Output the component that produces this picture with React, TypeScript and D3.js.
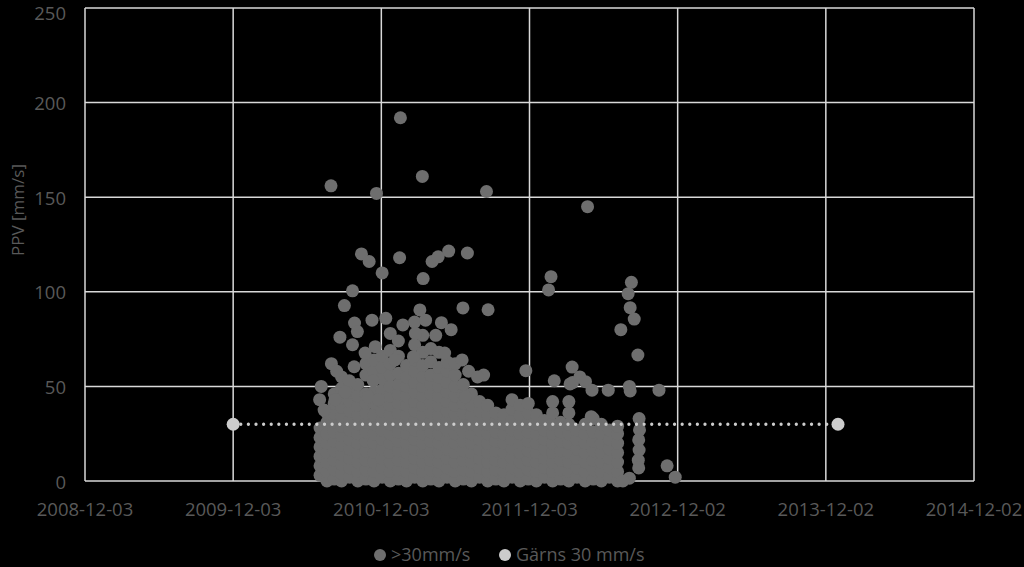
import React from "react";
import * as d3 from "d3";

// Axis ticks
const xTickLabels = ["2008-12-03", "2009-12-03", "2010-12-03", "2011-12-03", "2012-12-02", "2013-12-02", "2014-12-02"];
const yTicks = [0, 50, 100, 150, 200, 250];
const yTitle = "PPV [mm/s]";
const seriesNames = [">30mm/s", "Gärns 30 mm/s"];

// Limit series (Gärns 30 mm/s)
const limitDates = ["2009-12-03", "2014-01-01"];
const limitValues = [30, 30];

// Scatter series (>30mm/s): isolated points
const outliers: [string, number][] = [
  ["2010-08-01", 156], ["2011-01-19", 192], ["2010-11-21", 152], ["2011-03-14", 161], ["2011-08-19", 153], ["2012-04-24", 145],
  ["2010-10-15", 120], ["2010-11-03", 116], ["2010-12-05", 110], ["2011-01-17", 118], ["2011-03-16", 107], ["2011-04-07", 116],
  ["2011-04-22", 118.5], ["2011-05-18", 121.5], ["2011-07-03", 120.5], ["2010-09-23", 100.5], ["2010-09-03", 92.7],
  ["2011-06-22", 91.5], ["2011-08-23", 90.5], ["2011-03-08", 90.4],
  ["2012-01-25", 108], ["2012-01-19", 101], ["2012-08-10", 105], ["2012-08-02", 99], ["2012-08-07", 91.6], ["2012-08-17", 85.6],
  ["2012-07-15", 80], ["2012-08-26", 66.6], ["2011-11-24", 58.3], ["2011-08-12", 56], ["2012-03-17", 60.2], ["2012-02-02", 53],
  ["2012-03-12", 51.3], ["2012-03-18", 52], ["2012-04-05", 55], ["2012-04-19", 52.5], ["2012-05-05", 48], ["2012-06-14", 48],
  ["2012-08-05", 50], ["2012-08-07", 47.6], ["2012-10-17", 48], ["2012-05-03", 34],
  ["2012-08-29", 33], ["2012-08-30", 27], ["2012-08-28", 21.7], ["2012-08-29", 16.4], ["2012-08-27", 11], ["2012-08-28", 6.9],
  ["2012-11-06", 8], ["2012-11-26", 2], ["2012-08-05", 1.5], ["2012-07-20", 0],
  ["2010-09-28", 83.5], ["2010-08-23", 76], ["2010-10-05", 79], ["2010-11-10", 85], ["2010-12-14", 86], ["2011-01-25", 82.5],
  ["2011-03-22", 85], ["2011-02-25", 78], ["2011-04-30", 83.7], ["2011-05-24", 80], ["2011-04-16", 77], ["2011-02-20", 65.7],
  ["2011-01-06", 64], ["2010-10-24", 67.6], ["2010-09-23", 72], ["2010-11-18", 71], ["2010-08-02", 62], ["2010-08-15", 58],
  ["2010-09-27", 60.4], ["2010-09-15", 53], ["2010-11-13", 53], ["2011-05-08", 67.6], ["2011-06-20", 64], ["2011-07-06", 58],
  ["2011-07-28", 55], ["2010-07-08", 50], ["2010-07-04", 43], ["2010-07-15", 37.5], ["2010-08-11", 43], ["2010-09-05", 47],
  ["2010-11-01", 44.5], ["2010-11-26", 43], ["2011-06-28", 44.5],
];

// Scatter series (>30mm/s): dense cluster, read column by column
const cluster2010: [string, number[]][] = [
  ["2010-07-05", [3, 8, 13, 18, 23, 28]],
  ["2010-07-22", [0, 5, 10, 15, 20, 25, 31, 36]],
  ["2010-08-09", [1, 6, 11, 16, 21, 26, 31, 36, 41, 46]],
  ["2010-08-27", [0, 4, 9, 14, 19, 24, 29, 34, 39, 44, 49, 55]],
  ["2010-09-16", [2, 7, 12, 17, 22, 27, 32, 37, 42, 47]],
  ["2010-10-06", [0, 5, 10, 15, 20, 25, 30, 35, 40, 45, 51]],
  ["2010-10-26", [1, 6, 11, 16, 21, 26, 31, 36, 41, 46, 56, 62]],
  ["2010-11-15", [0, 5, 10, 15, 20, 25, 30, 35, 41, 47, 58, 64]],
  ["2010-12-05", [2, 7, 12, 17, 22, 27, 32, 37, 42, 48, 54, 60, 66]],
  ["2010-12-25", [0, 5, 10, 15, 20, 25, 30, 35, 40, 45, 50, 56, 62, 69, 78]],
];
const cluster2011: [string, number[]][] = [
  ["2011-01-14", [1, 6, 11, 16, 21, 26, 31, 36, 41, 46, 51, 57, 66, 74]],
  ["2011-02-03", [0, 5, 10, 15, 20, 25, 30, 35, 40, 45, 50, 55, 61]],
  ["2011-02-23", [2, 7, 12, 17, 22, 27, 32, 37, 42, 47, 52, 58, 64, 72, 84]],
  ["2011-03-15", [0, 5, 10, 15, 20, 25, 30, 35, 40, 45, 50, 55, 61, 68, 77]],
  ["2011-04-04", [1, 6, 11, 16, 21, 26, 31, 36, 41, 46, 51, 56, 63, 70]],
  ["2011-04-24", [0, 5, 10, 15, 20, 25, 30, 35, 40, 45, 50, 55, 60, 68]],
  ["2011-05-14", [2, 7, 12, 17, 22, 27, 32, 37, 42, 47, 52, 58, 63]],
  ["2011-06-03", [0, 5, 10, 15, 20, 25, 30, 35, 40, 45, 50, 56, 62]],
  ["2011-06-23", [1, 6, 11, 16, 21, 26, 31, 36, 41, 46, 51]],
  ["2011-07-13", [0, 5, 10, 15, 20, 25, 30, 35, 40, 46]],
  ["2011-08-02", [2, 7, 12, 17, 22, 27, 32, 37, 42]],
  ["2011-08-22", [0, 5, 10, 15, 20, 25, 30, 35, 40]],
  ["2011-09-11", [1, 6, 11, 16, 21, 26, 31, 36]],
  ["2011-10-01", [0, 5, 10, 15, 20, 25, 30, 35]],
  ["2011-10-21", [2, 7, 12, 17, 22, 27, 32, 38, 43]],
  ["2011-11-10", [0, 5, 10, 15, 20, 25, 30, 35, 40]],
  ["2011-11-30", [1, 6, 11, 16, 21, 26, 31, 36, 41]],
  ["2011-12-20", [0, 5, 10, 15, 20, 25, 30, 35]],
];
const cluster2012: [string, number[]][] = [
  ["2012-01-09", [2, 7, 12, 17, 22, 27, 32]],
  ["2012-01-29", [0, 5, 10, 15, 20, 25, 30, 36, 42]],
  ["2012-02-18", [1, 6, 11, 16, 21, 26, 31]],
  ["2012-03-09", [0, 5, 10, 15, 20, 25, 30, 36, 42]],
  ["2012-03-29", [2, 7, 12, 17, 22, 27]],
  ["2012-04-18", [0, 5, 10, 15, 20, 25, 30]],
  ["2012-05-08", [1, 6, 11, 16, 21, 26, 33]],
  ["2012-05-28", [0, 5, 10, 15, 20, 25, 30]],
  ["2012-06-17", [2, 7, 12, 17, 22, 27]],
  ["2012-07-07", [0, 5, 10, 15, 20, 25, 29]],
];

const BG = "#000000";
const GRID = "#d9d9d9";
const TEXT = "#595959";
const DOT = "#6e6e6e";
const LIMIT = "#cccccc";
const FONT = "'Open Sans', 'DejaVu Sans', sans-serif";

export default function App() {
  const W = 1024, H = 567;
  const parse = d3.utcParse("%Y-%m-%d");
  const x = d3.scaleUtc()
    .domain([parse(xTickLabels[0])!, parse(xTickLabels[xTickLabels.length - 1])!])
    .range([85, 974]);
  const y = d3.scaleLinear().domain([0, 250]).range([481, 8]);

  const clusterPts: [string, number][] = [...cluster2010, ...cluster2011, ...cluster2012]
    .flatMap(([d, vs]) => vs.map((v) => [d, v] as [string, number]));
  const points = [...clusterPts, ...outliers];

  const limitData = limitDates.map((d, i) => ({ d: parse(d)!, v: limitValues[i] }));
  const line = d3.line<{ d: Date; v: number }>().x((p) => x(p.d)).y((p) => y(p.v));

  return (
    <svg width={W} height={H} style={{ position: "fixed", left: 0, top: 0, background: BG, display: "block" }}>
      <rect x={0} y={0} width={W} height={H} fill={BG} />
      {/* grid */}
      {yTicks.map((t) => (
        <line key={"gy" + t} x1={85} x2={974} y1={y(t)} y2={y(t)} stroke={GRID} strokeWidth={1.5} />
      ))}
      {xTickLabels.map((t) => (
        <line key={"gx" + t} x1={x(parse(t)!)} x2={x(parse(t)!)} y1={y(0)} y2={y(250)} stroke={GRID} strokeWidth={1.5} />
      ))}
      {/* y tick labels */}
      {yTicks.map((t) => (
        <text key={"ly" + t} x={66} y={Math.max(y(t), 12)} textAnchor="end" dominantBaseline="central"
          fontFamily={FONT} fontSize={18.5} fill={TEXT}>{t}</text>
      ))}
      {/* x tick labels */}
      {xTickLabels.map((t) => (
        <text key={"lx" + t} x={x(parse(t)!)} y={508} textAnchor="middle" dominantBaseline="central"
          fontFamily={FONT} fontSize={18.5} fill={TEXT}>{t}</text>
      ))}
      {/* y title */}
      <text transform={`translate(17,210) rotate(-90)`} textAnchor="middle" dominantBaseline="central"
        fontFamily={FONT} fontSize={17} fill={TEXT}>{yTitle}</text>
      {/* scatter */}
      <g>
        {points.map(([d, v], i) => (
          <circle key={i} cx={x(parse(d)!)} cy={y(v)} r={6.5} fill={DOT} />
        ))}
      </g>
      {/* limit series */}
      <path d={line(limitData) || ""} fill="none" stroke={LIMIT} strokeWidth={3.3}
        strokeDasharray="0.01 7.6" strokeLinecap="round" />
      {limitData.map((p, i) => (
        <circle key={"lim" + i} cx={x(p.d)} cy={y(p.v)} r={6.5} fill={LIMIT} />
      ))}
      {/* legend */}
      <circle cx={380} cy={555} r={6} fill={DOT} />
      <text x={391} y={554} dominantBaseline="central" fontFamily={FONT} fontSize={18} fill={TEXT}>{seriesNames[0]}</text>
      <circle cx={505} cy={555} r={6} fill={LIMIT} />
      <text x={516} y={554} dominantBaseline="central" fontFamily={FONT} fontSize={18} fill={TEXT}>{seriesNames[1]}</text>
    </svg>
  );
}
